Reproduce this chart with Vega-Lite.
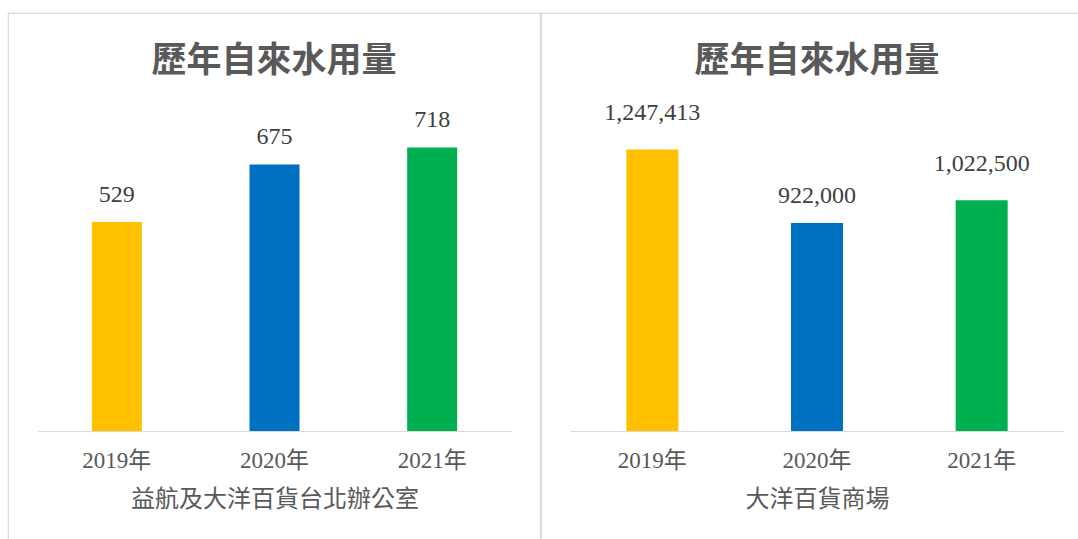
{
  "$schema": "https://vega.github.io/schema/vega-lite/v6.json",
  "padding": {"left": 7, "top": 12, "right": 0, "bottom": 0},
  "background": "white",
  "spacing": -3,
  "config": {
    "view": {"stroke": "#D9D9D9", "strokeWidth": 1.2},
    "axis": {
      "grid": false,
      "ticks": false,
      "domainColor": "#D9D9D9",
      "domainWidth": 1.2,
      "labelAngle": 0,
      "labelFont": "Liberation Serif, Noto Sans CJK TC",
      "labelFontSize": 23,
      "labelColor": "#595959",
      "labelPadding": 18,
      "titleFont": "Noto Sans CJK TC",
      "titleFontSize": 24,
      "titleFontWeight": "normal",
      "titleColor": "#595959",
      "titlePadding": 15
    },
    "title": {
      "font": "Noto Sans CJK TC",
      "fontSize": 35,
      "fontWeight": "bold",
      "color": "#595959",
      "frame": "group",
      "anchor": "middle"
    }
  },
  "data": {"values": [
    {"site": "office", "year": "2019年", "value": 529},
    {"site": "office", "year": "2020年", "value": 675},
    {"site": "office", "year": "2021年", "value": 718},
    {"site": "mall", "year": "2019年", "value": 1247413},
    {"site": "mall", "year": "2020年", "value": 922000},
    {"site": "mall", "year": "2021年", "value": 1022500}
  ]},
  "hconcat": [
    {
      "width": 532,
      "height": 532,
      "title": {"text": "歷年自來水用量", "offset": -66},
      "transform": [{"filter": "datum.site === 'office'"}],
      "encoding": {
        "x": {"field": "year", "type": "nominal", "sort": null,
              "scale": {"range": [30, 503], "paddingInner": 0, "paddingOuter": 0},
              "axis": {"title": "益航及大洋百貨台北辦公室", "offset": -114}},
        "y": {"field": "value", "type": "quantitative",
              "scale": {"domain": [0, 800], "range": [418, 102]}, "axis": null}
      },
      "layer": [
        {"mark": {"type": "bar", "size": 50},
         "encoding": {"color": {"field": "year", "type": "nominal",
           "scale": {"domain": ["2019年", "2020年", "2021年"], "range": ["#FFC000", "#0070C0", "#00B050"]}, "legend": null}}},
        {"transform": [{"filter": "datum.value < 1000000"}],
         "mark": {"type": "text", "baseline": "alphabetic", "dy": -20, "font": "Liberation Serif", "fontSize": 24, "color": "#404040"},
         "encoding": {"text": {"field": "value", "type": "quantitative", "format": ","}}}
      ]
    },
    {
      "width": 548,
      "height": 532,
      "title": {"text": "歷年自來水用量", "offset": -66, "dx": 2},
      "transform": [{"filter": "datum.site === 'mall'"}],
      "encoding": {
        "x": {"field": "year", "type": "nominal", "sort": null,
              "scale": {"range": [29, 523], "paddingInner": 0, "paddingOuter": 0},
              "axis": {"title": "大洋百貨商場", "offset": -114}},
        "y": {"field": "value", "type": "quantitative",
              "scale": {"domain": [0, 1400000], "range": [418, 102]}, "axis": null}
      },
      "layer": [
        {"mark": {"type": "bar", "size": 52},
         "encoding": {"color": {"field": "year", "type": "nominal",
           "scale": {"domain": ["2019年", "2020年", "2021年"], "range": ["#FFC000", "#0070C0", "#00B050"]}, "legend": null}}},
        {"transform": [{"filter": "datum.value < 1000000"}],
         "mark": {"type": "text", "baseline": "alphabetic", "dy": -20, "font": "Liberation Serif", "fontSize": 24, "color": "#404040"},
         "encoding": {"text": {"field": "value", "type": "quantitative", "format": ","}}},
        {"transform": [{"filter": "datum.value >= 1000000"}],
         "mark": {"type": "text", "baseline": "alphabetic", "dy": -29, "font": "Liberation Serif", "fontSize": 24, "color": "#404040"},
         "encoding": {"text": {"field": "value", "type": "quantitative", "format": ","}}}
      ]
    }
  ]
}
